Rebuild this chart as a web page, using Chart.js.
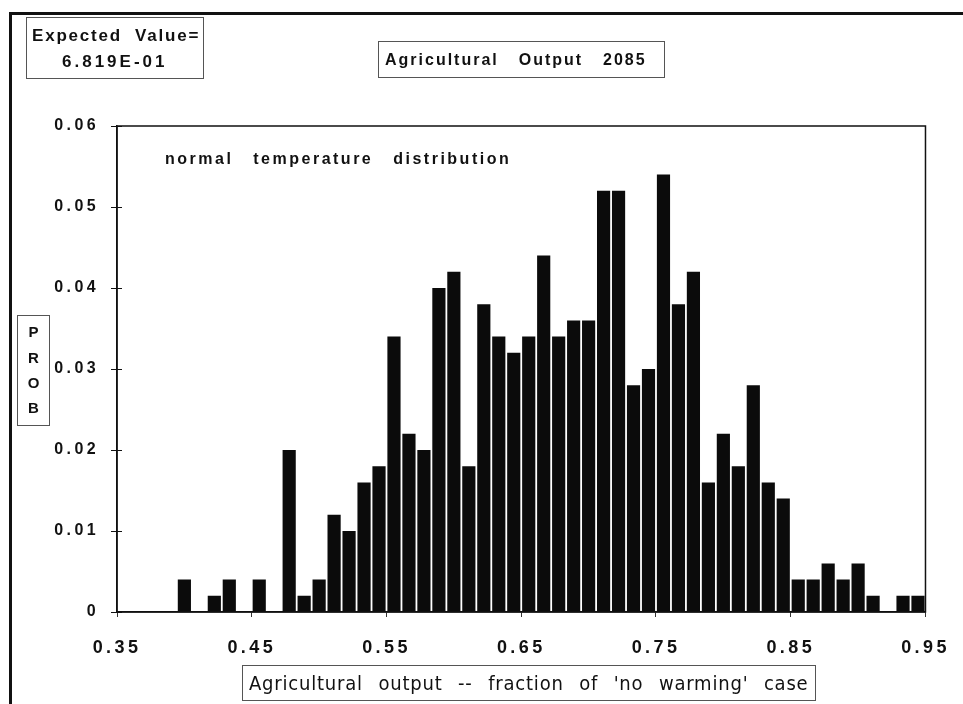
<!DOCTYPE html>
<html>
<head>
<meta charset="utf-8">
<title>Agricultural Output 2085</title>
<script src="https://cdn.jsdelivr.net/npm/chart.js@4.4.1/dist/chart.umd.min.js"></script>
<style>
    html, body { margin: 0; padding: 0; background: #fff; }
    #wrap { position: relative; width: 963px; height: 704px; overflow: hidden; }
    #chart { position: absolute; left: 0; top: 0; }
    .frame {
        position: absolute; left: 9px; top: 12px; width: 1000px; height: 1000px;
        border-top: 3px solid #111; border-left: 3px solid #111;
    }
    .txt {
        position: absolute; color: #111; white-space: pre;
        font-family: 'Liberation Sans', Arial, sans-serif; font-weight: bold;
    }
    .box { border: 1px solid #555; box-sizing: border-box; }
    #ev { left: 26px; top: 17px; width: 178px; height: 62px; font-size: 17px; }
    #ev div { position: absolute; }
    #title { left: 378px; top: 41px; width: 287px; height: 37px; font-size: 16px; letter-spacing: 2px; word-spacing: 3.5px; padding: 9px 0 0 6px; }
    #note { left: 165px; top: 150px; font-size: 16px; letter-spacing: 2.5px; word-spacing: 13px; }
    #prob { left: 17px; top: 315px; width: 33px; height: 111px; font-size: 15px; text-align: center; }
    #prob div { position: absolute; left: 0; width: 31px; }
    #xlabel { left: 242px; top: 665px; width: 574px; height: 36px; font-family: 'Liberation Sans Narrow', 'DejaVu Sans Condensed', sans-serif; font-weight: normal; font-size: 20px; word-spacing: 9px; letter-spacing: 0.8px; padding: 5px 0 0 6px; }
</style>
</head>
<body>
<div id="wrap">
    <canvas id="chart" width="963" height="704"></canvas>
    <div class="frame"></div>
    <div class="txt box" id="ev">
        <div style="left:5px; top:8px; letter-spacing:1.8px;">Expected  Value=</div>
        <div style="left:35px; top:34px; letter-spacing:3px;">6.819E-01</div>
    </div>
    <div class="txt box" id="title">Agricultural  Output  2085</div>
    <div class="txt" id="note">normal temperature distribution</div>
    <div class="txt box" id="prob">
        <div style="top:7px;">P</div>
        <div style="top:33px;">R</div>
        <div style="top:58px;">O</div>
        <div style="top:83px;">B</div>
    </div>
    <div class="txt box" id="xlabel">Agricultural output -- fraction of 'no warming' case</div>
</div>
<script>
    // probability per bin, 54 equal bins spanning 0.35 .. 0.95
    const probs = [
        0, 0, 0, 0, 0.004, 0, 0.002, 0.004, 0, 0.004,
        0, 0.020, 0.002, 0.004, 0.012, 0.010, 0.016, 0.018, 0.034, 0.022,
        0.020, 0.040, 0.042, 0.018, 0.038, 0.034, 0.032, 0.034, 0.044, 0.034,
        0.036, 0.036, 0.052, 0.052, 0.028, 0.030, 0.054, 0.038, 0.042, 0.016,
        0.022, 0.018, 0.028, 0.016, 0.014, 0.004, 0.004, 0.006, 0.004, 0.006,
        0.002, 0, 0.002, 0.002
    ];
    const bins = probs.map((_, i) => 'bin ' + (i + 1));
    const xTicks = [0.35, 0.45, 0.55, 0.65, 0.75, 0.85, 0.95];
    const yTicks = [0, 0.01, 0.02, 0.03, 0.04, 0.05, 0.06];

    const fontFamily = "'Liberation Sans', Arial, sans-serif";

    // spaced-out tick lettering and the boxed plot frame
    const frameStyle = {
        id: 'frameStyle',
        beforeDraw(chart) {
            chart.ctx.letterSpacing = '3.4px';
        },
        afterDraw(chart) {
            const { ctx, chartArea: a, scales } = chart;
            ctx.letterSpacing = '0px';
            ctx.save();
            ctx.strokeStyle = '#111';
            ctx.lineWidth = 1.5;
            ctx.strokeRect(a.left, a.top, a.right - a.left, a.bottom - a.top);
            ctx.lineWidth = 1;
            yTicks.forEach(v => {
                const py = Math.round(scales.y.getPixelForValue(v)) + 0.5;
                ctx.beginPath();
                ctx.moveTo(a.left, py);
                ctx.lineTo(a.left + 5, py);
                ctx.stroke();
            });
            ctx.restore();
        }
    };

    new Chart(document.getElementById('chart'), {
        type: 'bar',
        data: {
            labels: bins,
            datasets: [{
                label: 'PROB',
                data: probs,
                backgroundColor: '#0b0b0b',
                borderWidth: 0,
                barPercentage: 0.88,
                categoryPercentage: 1.0
            }]
        },
        options: {
            responsive: false,
            animation: false,
            events: [],
            layout: { padding: { top: 126, right: 33, bottom: 0, left: 0 } },
            plugins: {
                legend: { display: false },
                tooltip: { enabled: false },
                title: { display: false }
            },
            scales: {
                x: { type: 'category', display: false, offset: true },
                xv: {
                    type: 'linear',
                    position: 'bottom',
                    offset: false,
                    min: 0.35,
                    max: 0.95,
                    afterBuildTicks: s => { s.ticks = xTicks.map(v => ({ value: v })); },
                    afterFit: s => { s.height = 92; },
                    grid: { drawOnChartArea: false, offset: false, color: '#333', tickLength: 5 },
                    border: { color: '#111', width: 1.5 },
                    ticks: {
                        color: '#111',
                        font: { family: fontFamily, size: 18, weight: 'bold' },
                        padding: 20,
                        maxRotation: 0,
                        autoSkip: false,
                        callback: v => v.toFixed(2)
                    }
                },
                y: {
                    min: 0,
                    max: 0.06,
                    afterBuildTicks: s => { s.ticks = yTicks.map(v => ({ value: v })); },
                    afterFit: s => { s.width = 117; },
                    grid: { drawOnChartArea: false, color: '#111', tickLength: 6 },
                    border: { color: '#111', width: 1.5 },
                    ticks: {
                        color: '#111',
                        font: { family: fontFamily, size: 16, weight: 'bold' },
                        padding: 12,
                        callback: v => v === 0 ? '0' : v.toFixed(2)
                    }
                }
            }
        },
        plugins: [frameStyle]
    });
</script>
</body>
</html>
